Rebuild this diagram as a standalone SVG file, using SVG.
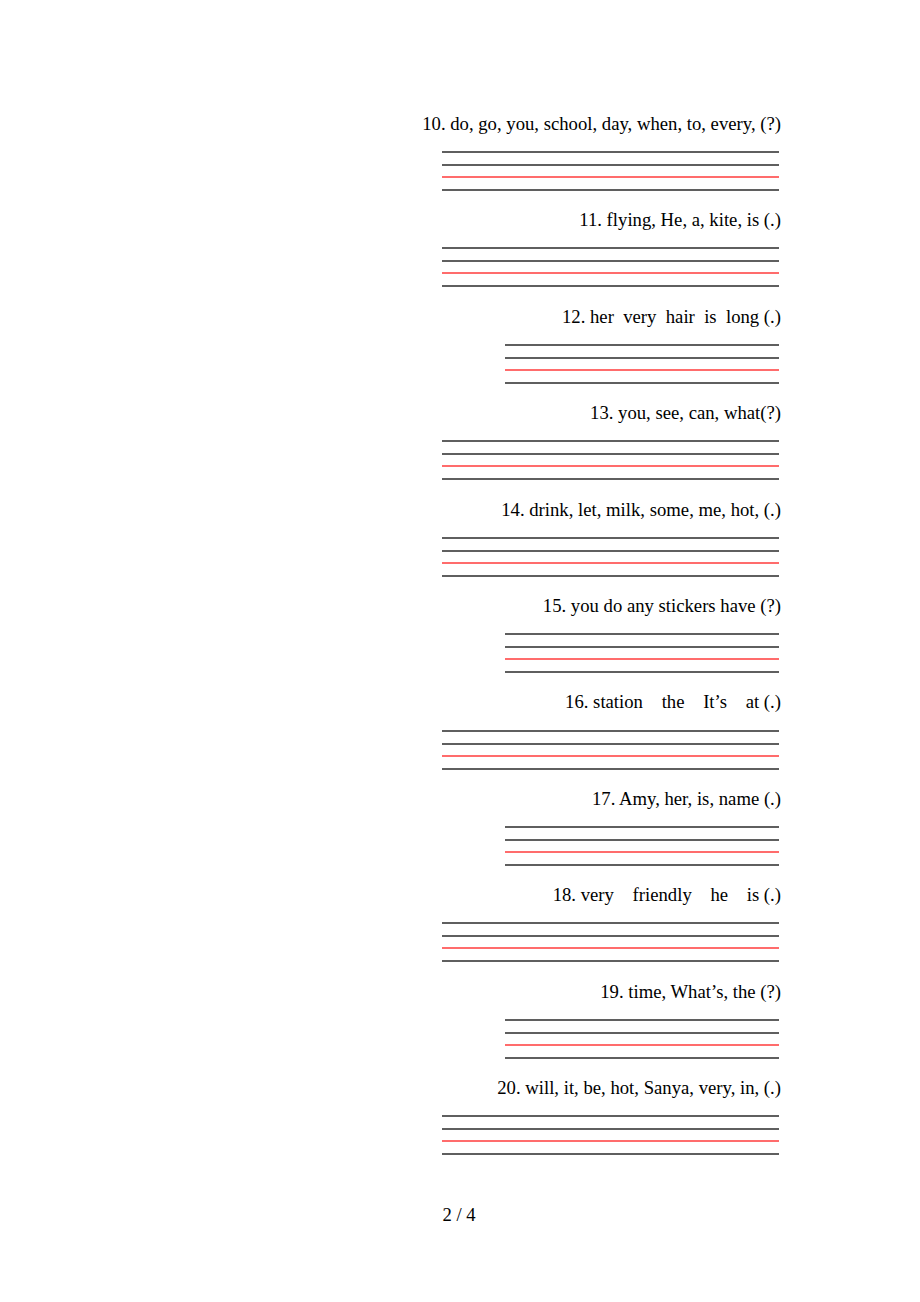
<svg xmlns="http://www.w3.org/2000/svg" width="920" height="1302" viewBox="0 0 920 1302">
<style>
text{font-family:"Liberation Serif","Times New Roman",serif;font-size:18.7px;fill:#000;white-space:pre}
.q{text-anchor:end}
.k{stroke:#2a2a2a;stroke-width:1.4}
.r{stroke:#ff3b3b;stroke-width:1.4}
</style>
<rect width="920" height="1302" fill="#fff"/>
<defs>
<g id="w"><line class="k" x1="442" x2="779" y1="0" y2="0"/><line class="k" x1="442" x2="779" y1="13" y2="13"/><line class="r" x1="442" x2="779" y1="25" y2="25"/><line class="k" x1="442" x2="779" y1="38" y2="38"/></g>
<g id="n"><line class="k" x1="505" x2="779" y1="0" y2="0"/><line class="k" x1="505" x2="779" y1="13" y2="13"/><line class="r" x1="505" x2="779" y1="25" y2="25"/><line class="k" x1="505" x2="779" y1="38" y2="38"/></g>
</defs>
<g id="q10"><text class="q" x="781" y="130">10. do, go, you, school, day, when, to, every, (?)</text><use href="#w" y="152"/></g>
<g id="q11"><text class="q" x="781" y="226">11. flying, He, a, kite, is (.)</text><use href="#w" y="248"/></g>
<g id="q12"><text class="q" x="781" y="323">12. her  very  hair  is  long (.)</text><use href="#n" y="345"/></g>
<g id="q13"><text class="q" x="781" y="419">13. you, see, can, what(?)</text><use href="#w" y="441"/></g>
<g id="q14"><text class="q" x="781" y="516">14. drink, let, milk, some, me, hot, (.)</text><use href="#w" y="538"/></g>
<g id="q15"><text class="q" x="781" y="612">15. you do any stickers have (?)</text><use href="#n" y="634"/></g>
<g id="q16"><text class="q" x="781" y="708">16. station    the    It’s    at (.)</text><use href="#w" y="731"/></g>
<g id="q17"><text class="q" x="781" y="805">17. Amy, her, is, name (.)</text><use href="#n" y="827"/></g>
<g id="q18"><text class="q" x="781" y="901">18. very    friendly    he    is (.)</text><use href="#w" y="923"/></g>
<g id="q19"><text class="q" x="781" y="998">19. time, What’s, the (?)</text><use href="#n" y="1020"/></g>
<g id="q20"><text class="q" x="781" y="1094">20. will, it, be, hot, Sanya, very, in, (.)</text><use href="#w" y="1116"/></g>
<g id="page"><text x="459" y="1221" text-anchor="middle">2 / 4</text></g>
</svg>
